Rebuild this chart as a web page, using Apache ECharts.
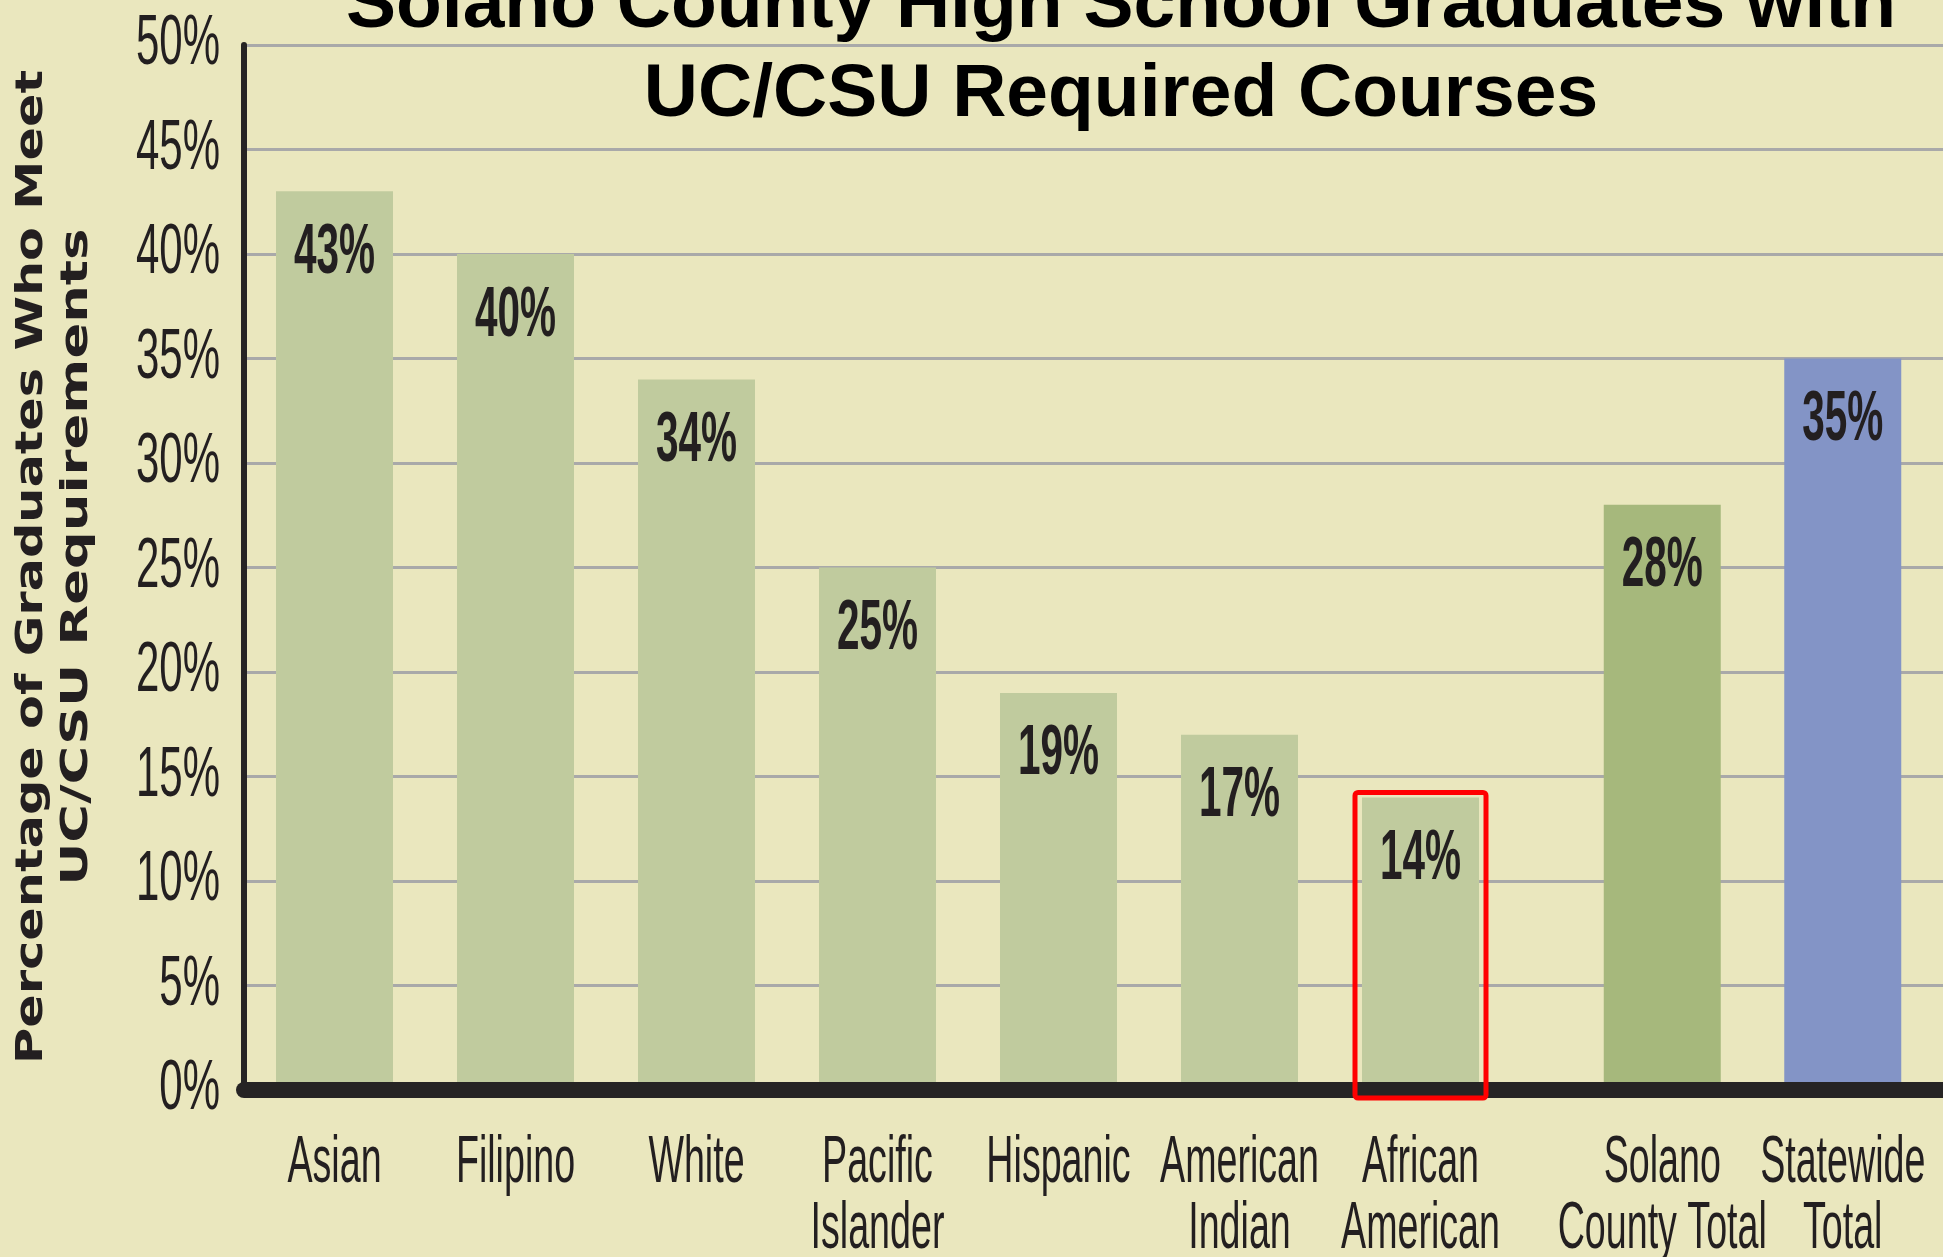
<!DOCTYPE html>
<html>
<head>
    <meta charset="utf-8">
    <title>Solano County High School Graduates with UC/CSU Required Courses</title>
    <script src="https://cdn.jsdelivr.net/npm/echarts@6.0.0/dist/echarts.min.js"></script>
    <style>
        html, body { margin: 0; padding: 0; background: #EAE7BE; }
        #chart1 { width: 1943px; height: 1257px; }
    </style>
</head>
<body>
<div id="chart1"></div>
<script type="text/javascript">
    // data
    var groupNames = ['Asian', 'Filipino', 'White', 'Pacific\nIslander', 'Hispanic', 'American\nIndian', 'African\nAmerican'];
    var groupValues = [43, 40, 34, 25, 19, 17, 14];
    var totalNames = ['Solano\nCounty Total', 'Statewide\nTotal'];
    var totalValues = [28, 35];
    var yTicks = [0, 5, 10, 15, 20, 25, 30, 35, 40, 45, 50];
    var highlighted = 'African\nAmerican';

    var totalColors = ['#A6B87C', '#8394C6'];
    var ink = '#231F20';
    var gridLeft = 244;
    var barW = 117;

    var myChart1 = echarts.init(document.getElementById('chart1'));

    var catAxis = function (gridIndex, names) {
        return {
            type: 'category',
            gridIndex: gridIndex,
            data: names,
            axisLine: { show: false },
            axisTick: { show: false },
            axisLabel: { show: false }
        };
    };
    var hiddenY = function (gridIndex) {
        return { type: 'value', gridIndex: gridIndex, min: yTicks[0], max: yTicks[yTicks.length - 1], show: false };
    };

    myChart1.setOption({
        backgroundColor: '#EAE7BE',
        animation: false,
        title: {
            text: 'Solano County High School Graduates with\nUC/CSU Required Courses',
            left: 1121,
            top: -38,
            padding: 0,
            textAlign: 'center',
            textVerticalAlign: 'top',
            textStyle: {
                color: '#000',
                fontFamily: '"Liberation Sans", Arial, sans-serif',
                fontWeight: 'bold',
                fontSize: 75,
                lineHeight: 89
            }
        },
        grid: [
            { left: gridLeft, right: 0, top: 45, bottom: 167, outerBoundsMode: 'none' },
            { left: gridLeft, width: 1267, top: 45, bottom: 167, outerBoundsMode: 'none' },
            { left: 1572, width: 361, top: 45, bottom: 167, outerBoundsMode: 'none' }
        ],
        xAxis: [
            {
                type: 'category',
                gridIndex: 0,
                data: [''],
                z: 10,
                axisLine: { show: true, lineStyle: { color: '#262424', width: 16 } },
                axisTick: { show: false },
                axisLabel: { show: false }
            },
            catAxis(1, groupNames),
            catAxis(2, totalNames)
        ],
        yAxis: [
            {
                type: 'value',
                gridIndex: 0,
                min: yTicks[0],
                max: yTicks[yTicks.length - 1],
                interval: yTicks[1] - yTicks[0],
                axisLine: { show: true, lineStyle: { color: '#262424', width: 6 } },
                axisTick: { show: false },
                axisLabel: { show: false },
                splitLine: { show: true, lineStyle: { color: '#A9A9A9', width: 3 } }
            },
            hiddenY(1),
            hiddenY(2)
        ],
        series: [
            {
                name: 'Groups',
                type: 'bar',
                xAxisIndex: 1,
                yAxisIndex: 1,
                barWidth: barW,
                itemStyle: { color: '#C0CB9E' },
                data: groupValues
            },
            {
                name: 'Totals',
                type: 'bar',
                xAxisIndex: 2,
                yAxisIndex: 2,
                barWidth: barW,
                itemStyle: {
                    color: function (p) { return totalColors[p.dataIndex]; }
                },
                data: totalValues
            }
        ]
    });

    // the original uses a very condensed face, so texts are squeezed with scaleX
    function txt(x, y, text, size, weight, sx, align, vAlign, lh) {
        return {
            type: 'text', x: x, y: y, scaleX: sx, z: 50,
            style: {
                text: text, fill: ink,
                fontFamily: '"Liberation Sans", Arial, sans-serif',
                fontSize: size, fontWeight: weight,
                lineHeight: lh || size,
                align: align, verticalAlign: vAlign
            }
        };
    }

    var els = [];
    // y tick labels
    yTicks.forEach(function (v) {
        var y = myChart1.convertToPixel({ yAxisIndex: 0 }, v);
        els.push(txt(gridLeft - 24, y, v + '%', 70, 'normal', 0.6, 'right', 'middle'));
    });

    // value labels inside bars and category labels under the axis
    function addBars(axisIdx, names, values) {
        names.forEach(function (n, i) {
            var top = myChart1.convertToPixel({ xAxisIndex: axisIdx, yAxisIndex: axisIdx }, [i, values[i]]);
            var base = myChart1.convertToPixel({ xAxisIndex: axisIdx, yAxisIndex: axisIdx }, [i, 0]);
            els.push(txt(top[0], top[1] + 62, values[i] + '%', 71, 'bold', 0.57, 'center', 'middle'));
            els.push(txt(base[0], base[1] + 41, n, 66, 'normal', 0.57, 'center', 'top', 66));
        });
    }
    addBars(1, groupNames, groupValues);
    addBars(2, totalNames, totalValues);

    // y axis title, two rotated lines
    function yName(x, y, text, sx) {
        return {
            type: 'text', x: x, y: y, rotation: Math.PI / 2, scaleX: sx, z: 50,
            style: {
                text: text,
                fill: ink,
                fontFamily: '"DejaVu Sans", sans-serif',
                fontWeight: 'bold',
                fontSize: 38,
                align: 'center',
                verticalAlign: 'middle'
            }
        };
    }
    els.push(yName(32, 567, 'Percentage of Graduates Who Meet', 1.3));
    els.push(yName(77, 557, 'UC/CSU Requirements', 1.39));

    // red box round the highlighted bar
    var hi = groupNames.indexOf(highlighted);
    var hTop = myChart1.convertToPixel({ xAxisIndex: 1, yAxisIndex: 1 }, [hi, groupValues[hi]]);
    var hBase = myChart1.convertToPixel({ xAxisIndex: 1, yAxisIndex: 1 }, [hi, 0]);
    var half = barW / 2 + 7;
    els.push({
        type: 'rect',
        z: 100,
        shape: { x: hTop[0] - half, y: hTop[1] - 5, width: half * 2, height: hBase[1] - hTop[1] + 13, r: 3 },
        style: { fill: null, stroke: '#FF0000', lineWidth: 5 }
    });

    myChart1.setOption({ graphic: els });
</script>
</body>
</html>
